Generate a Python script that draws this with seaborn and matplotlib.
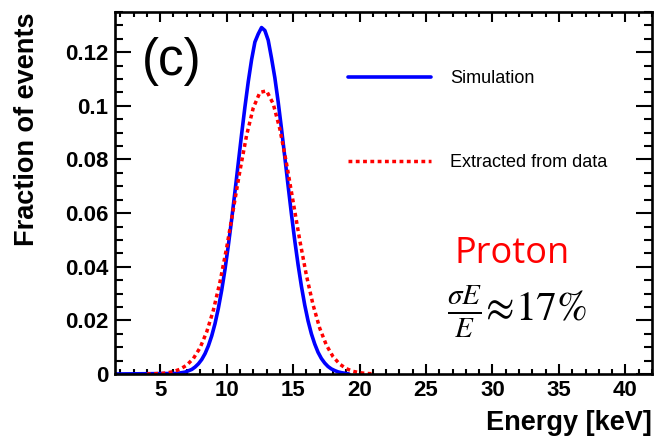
import numpy as np
import pandas as pd
import matplotlib
matplotlib.use("Agg")
import matplotlib.pyplot as plt
import seaborn as sns
from matplotlib.ticker import MultipleLocator, FuncFormatter
from matplotlib.lines import Line2D

# ── Data ────────────────────────────────────────────────────────────────────
# simulation histogram, bin centres every 0.25 keV from 6.125 to 18.875 keV
sim_e = np.arange(6.125, 18.9, 0.25)
sim_frac = [
    0.0002, 0.0003, 0.0005, 0.0007, 0.0012, 0.0017, 0.0026, 0.0038,
    0.0054, 0.0076, 0.0105, 0.0142, 0.0188, 0.0245, 0.0312, 0.0390,
    0.0479, 0.0576, 0.0680, 0.0787, 0.0894, 0.0996, 0.1090, 0.1172,
    0.1238, 0.1268, 0.1292, 0.1281, 0.1245, 0.1178, 0.1105, 0.1015,
    0.0915, 0.0809, 0.0701, 0.0596, 0.0497, 0.0407, 0.0327, 0.0257,
    0.0198, 0.0150, 0.0112, 0.0081, 0.0058, 0.0041, 0.0028, 0.0019,
    0.0013, 0.0008, 0.0005, 0.0003,
]
# curve extracted from data
data_e = [4.0, 4.5, 5.0, 5.5, 6.0, 6.5, 7.0, 7.5, 8.0, 8.5, 9.0, 9.5,
          10.0, 10.5, 11.0, 11.5, 12.0, 12.5, 13.0, 13.5, 14.0, 14.5,
          15.0, 15.5, 16.0, 16.5, 17.0, 17.5, 18.0, 18.5, 19.0, 19.5,
          20.0, 20.5, 21.0]
data_frac = [0.0000, 0.0001, 0.0002, 0.0004, 0.0009, 0.0018, 0.0033,
             0.0058, 0.0098, 0.0157, 0.0238, 0.0344, 0.0471, 0.0614,
             0.0758, 0.0890, 0.0992, 0.1050, 0.1056, 0.1008, 0.0914,
             0.0786, 0.0643, 0.0499, 0.0368, 0.0258, 0.0171, 0.0108,
             0.0065, 0.0037, 0.0020, 0.0010, 0.0005, 0.0002, 0.0001]

x_lo, x_hi = 1.6, 42.0

# empty bins from the left edge of the axis
sim = pd.DataFrame({
    "energy": np.concatenate([[x_lo], sim_e, [19.2]]),
    "frac": np.concatenate([[0.0], sim_frac, [0.0]]),
})

# ── Style ───────────────────────────────────────────────────────────────────
sns.set_theme(style="ticks")
plt.rcParams.update({
    "font.family": ["Liberation Sans", "DejaVu Sans"],
    "mathtext.fontset": "stix",
    "text.color": "black",
    "axes.edgecolor": "black",
    "axes.labelcolor": "black",
    "xtick.color": "black",
    "ytick.color": "black",
    "axes.linewidth": 1.9,
    "xtick.major.width": 1.5,
    "ytick.major.width": 1.5,
    "xtick.minor.width": 1.5,
    "ytick.minor.width": 1.5,
})

fig = plt.figure(figsize=(6.58, 4.36), dpi=100)
ax = fig.add_axes([115 / 658, 1 - 374 / 436, 537 / 658, 362 / 436])

sns.lineplot(data=sim, x="energy", y="frac", color="#0000ff", linewidth=2.6,
             ax=ax)
sns.lineplot(x=data_e, y=data_frac, color="#ff0000", linewidth=2.5, ax=ax)
ax.lines[-1].set_dashes((1.1, 1.0))

ax.set_xlim(x_lo, x_hi)
ax.set_ylim(0, 0.135)

ax.xaxis.set_major_locator(MultipleLocator(5))
ax.xaxis.set_minor_locator(MultipleLocator(1))
ax.yaxis.set_major_locator(MultipleLocator(0.02))
ax.yaxis.set_minor_locator(MultipleLocator(0.005))
ax.yaxis.set_major_formatter(FuncFormatter(lambda v, p: f"{v:g}"))

ax.tick_params(which="both", direction="in", top=True, right=True)
ax.tick_params(axis="x", which="major", length=7.2, pad=4)
ax.tick_params(axis="x", which="minor", length=3.6)
ax.tick_params(axis="y", which="major", length=11.5, pad=5)
ax.tick_params(axis="y", which="minor", length=5.8)
for lab in ax.get_xticklabels() + ax.get_yticklabels():
    lab.set_fontweight("bold")
    lab.set_fontsize(16)

ax.set_ylabel("Fraction of events", fontsize=19.5, fontweight="bold",
              loc="top")
ax.yaxis.set_label_coords(-0.14, 1.0)
ax.set_xlabel("Energy [keV]", fontsize=19.5, fontweight="bold", loc="right")
ax.xaxis.set_label_coords(1.0, -0.1)

# legend
handles = [Line2D([], [], color="#0000ff", lw=2.6),
           Line2D([], [], color="#ff0000", lw=2.5, dashes=(1.1, 1.0))]
ax.legend(handles, ["Simulation", "Extracted from data"], frameon=False,
          fontsize=13, loc="upper left", borderpad=0, borderaxespad=0,
          handlelength=4.6, handletextpad=1.05, labelspacing=3.72,
          bbox_to_anchor=(348 / 658, 1 - 70 / 436),
          bbox_transform=fig.transFigure)

# annotations
fig.text(172 / 658, 1 - 62 / 436, "(c)", fontsize=37, ha="center",
         va="center")
fig.text(454 / 658, 1 - 254 / 436, "Proton", fontsize=26, color="#ff0000",
         family=["Open Sans", "DejaVu Sans"], ha="left", va="center")
fig.text(447 / 658, 1 - 312 / 436, r"$\frac{\sigma E}{E}\!\approx\!17\%$",
         fontsize=30, ha="left", va="center")

fig.savefig("out.png", dpi=100)
plt.close(fig)
